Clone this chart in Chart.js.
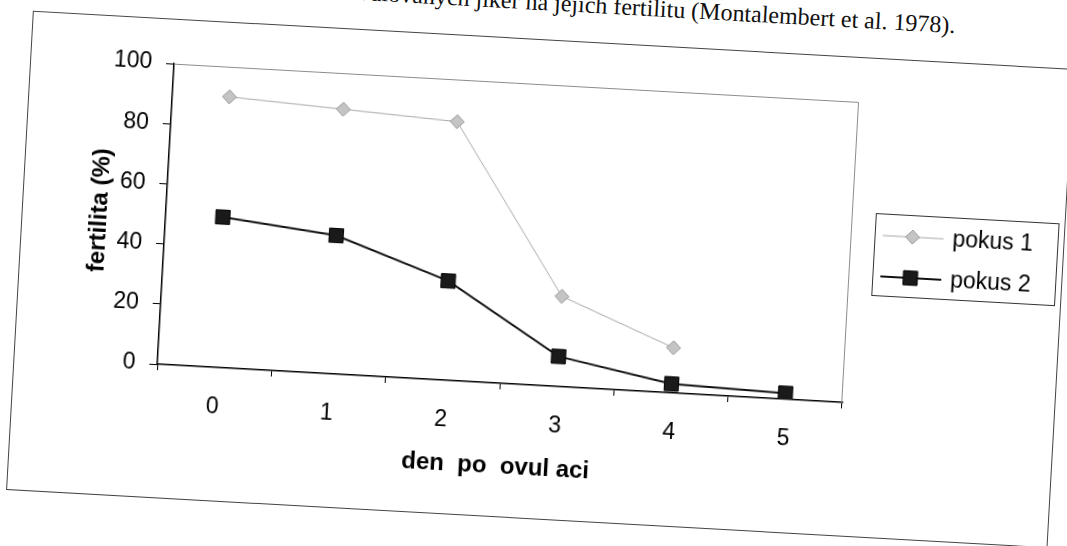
<!DOCTYPE html>
<html>
<head>
<meta charset="utf-8">
<script src="https://cdn.jsdelivr.net/npm/chart.js@4.4.1/dist/chart.umd.min.js"></script>
<style>
  html, body { margin: 0; padding: 0; background: #fff; overflow: hidden; }
  body { width: 1067px; height: 546px; position: relative; }
  /* the scanned page is tilted a little clockwise */
  #page { position: absolute; left: 0; top: 0; width: 1067px; height: 546px;
          transform: rotate(3.2deg); transform-origin: 533px 273px; }
  #caption { position: absolute; right: 126px; top: -10px; white-space: nowrap; color: #111;
             font: 24px/1 "Liberation Serif", "Times New Roman", serif; }
  #frame { position: absolute; left: 19px; top: 39px; width: 1041px; height: 478px;
           border: 1px solid #444; }
  canvas { display: block; }
</style>
</head>
<body>
<div id="page">
  <div id="caption">ovulovaných jiker na jejich fertilitu (Montalembert et al. 1978).</div>
  <div id="frame"><canvas id="chart" width="1041" height="478"></canvas></div>
</div>
<script>
// --- data ---
const days = ["0", "1", "2", "3", "4", "5"];
const pokus1 = [90, 88, 86, 30, 15, null];
const pokus2 = [50, 46, 33, 10, 3, 2];
const yTicks = [0, 20, 40, 60, 80, 100];

const FONT = "'Liberation Sans', Arial, sans-serif";
Chart.defaults.font.family = FONT;
Chart.defaults.font.size = 23;
Chart.defaults.color = "#000";

// grey top + right edge of the plot area
const plotFrame = {
  id: "plotFrame",
  beforeDatasetsDraw(chart) {
    const { ctx, chartArea: a } = chart;
    ctx.save();
    ctx.strokeStyle = "#8c8c8c";
    ctx.lineWidth = 1;
    ctx.beginPath();
    ctx.moveTo(a.left, a.top + 0.5);
    ctx.lineTo(a.right - 0.5, a.top + 0.5);
    ctx.lineTo(a.right - 0.5, a.bottom);
    ctx.stroke();
    ctx.restore();
  }
};

// legend in a framed box, line sample with marker like the old excel legend
const boxLegend = {
  id: "boxLegend",
  afterDraw(chart) {
    const { ctx, chartArea: a } = chart;
    const x = a.right + 23, y = 154, w = 183, h = 82;
    ctx.save();
    ctx.strokeStyle = "#333";
    ctx.lineWidth = 1;
    ctx.strokeRect(x + 0.5, y + 0.5, w, h);
    chart.data.datasets.forEach((ds, i) => {
      const cy = y + 22 + i * 41;
      ctx.strokeStyle = ds.borderColor;
      ctx.lineWidth = ds.borderWidth;
      ctx.beginPath();
      ctx.moveTo(x + 8, cy);
      ctx.lineTo(x + 69, cy);
      ctx.stroke();
      ctx.fillStyle = ds.pointBackgroundColor;
      ctx.strokeStyle = ds.pointBorderColor;
      ctx.lineWidth = 1;
      Chart.helpers.drawPoint(ctx, { pointStyle: ds.pointStyle, radius: ds.pointRadius, borderWidth: 1, rotation: 0 }, x + 38, cy);
      ctx.fillStyle = "#000";
      ctx.font = "23px " + FONT;
      ctx.textBaseline = "middle";
      ctx.fillText(ds.label, x + 78, cy + 1);
    });
    ctx.restore();
  }
};

new Chart(document.getElementById("chart"), {
  type: "line",
  data: {
    labels: days,
    datasets: [
      {
        label: "pokus 1",
        data: pokus1,
        borderColor: "#a8a8a8",
        borderWidth: 1,
        pointStyle: "rectRot",
        pointRadius: 7,
        pointBackgroundColor: "#c4c4c4",
        pointBorderColor: "#999",
        pointBorderWidth: 1,
        tension: 0
      },
      {
        label: "pokus 2",
        data: pokus2,
        borderColor: "#111",
        borderWidth: 2,
        pointStyle: "rect",
        pointRadius: 10,
        pointBackgroundColor: "#1a1a1a",
        pointBorderColor: "#000",
        pointBorderWidth: 1,
        tension: 0
      }
    ]
  },
  options: {
    responsive: false,
    animation: false,
    devicePixelRatio: 1,
    layout: { padding: { top: 44, right: 212, bottom: 33, left: 0 } },
    plugins: { legend: { display: false }, tooltip: { enabled: false } },
    scales: {
      x: {
        offset: true,
        grid: { offset: true, drawOnChartArea: false, tickLength: 6, color: "#000" },
        border: { color: "#000", width: 1.5 },
        ticks: { padding: 20, maxRotation: 0, color: "#000" },
        title: { display: true, text: "den  po  ovul aci", font: { size: 24, weight: "bold" }, padding: { top: 0, bottom: 2 } },
        afterFit: (s) => { s.height = 100; }
      },
      y: {
        min: 0,
        max: 100,
        afterBuildTicks: (s) => { s.ticks = yTicks.map(v => ({ value: v })); },
        grid: { drawOnChartArea: false, tickLength: 8, color: "#000" },
        border: { color: "#000", width: 1.5 },
        ticks: { padding: 14, color: "#000" },
        title: { display: true, text: "fertilita (%)", font: { size: 24, weight: "bold" }, padding: { top: 63, bottom: 0 } },
        afterFit: (s) => { s.width = 143; }
      }
    }
  },
  plugins: [plotFrame, boxLegend]
});
</script>
</body>
</html>
